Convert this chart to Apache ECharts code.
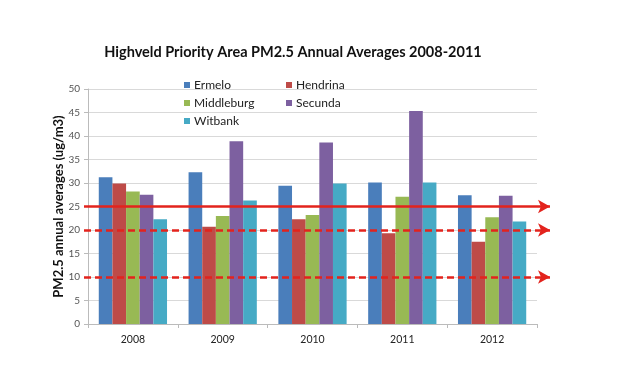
<!DOCTYPE html>
<html><head><meta charset="utf-8">
<script src="https://cdn.jsdelivr.net/npm/echarts@6/dist/echarts.min.js"></script>
<style>html,body{margin:0;padding:0;background:#fff}#c{width:620px;height:372px}</style>
</head><body><div id="c"></div>
<script>
const years = ['2008','2009','2010','2011','2012'];
const ermelo = [31.2, 32.3, 29.4, 30.1, 27.4];
const hendrina = [29.9, 20.7, 22.3, 19.3, 17.5];
const middleburg = [28.2, 23.0, 23.2, 27.1, 22.7];
const secunda = [27.5, 38.9, 38.6, 45.3, 27.3];
const witbank = [22.3, 26.3, 29.9, 30.1, 21.8];
const limitSolid = [25];
const limitDashed = [20, 10];
const seriesNames = ['Ermelo','Hendrina','Middleburg','Secunda','Witbank'];
const seriesData = [ermelo, hendrina, middleburg, secunda, witbank];
const colors = ['#4a7ebb','#be4b48','#98b954','#7d60a0','#46aac5'];

const chart = echarts.init(document.getElementById('c'));
const font = 'Lato, "Open Sans", sans-serif';
const legPos = [[179,74],[281,74],[179,92],[281,92],[179,110]];
const red = '#e3231d';
const arrowLine = (v, dashed) => ({
  yAxis: v,
  lineStyle: {color: red, width: 2.5, type: dashed ? [7,4] : 'solid'}
});
chart.setOption({
  animation: false,
  backgroundColor: '#fff',
  title: {
    text: 'Highveld Priority Area PM2.5 Annual Averages 2008-2011',
    left: 288, top: 40, textAlign: 'center',
    textStyle: {fontFamily: font, fontWeight: 'bold', fontSize: 14.5, color: '#111'}
  },
  legend: seriesNames.map((n, i) => ({
    data: [n], left: legPos[i][0], top: legPos[i][1],
    itemWidth: 6, itemHeight: 6, icon: 'rect', itemGap: 4,
    textStyle: {fontFamily: font, fontSize: 12, color: '#222', padding: [0,0,0,-1]}
  })),
  grid: [
    {left: 88, right: 83, top: 89, bottom: 48},
    {left: 84, right: 70, top: 89, bottom: 48}
  ],
  xAxis: [
    {type: 'category', data: years, gridIndex: 0,
     axisLine: {lineStyle: {color: '#bbb'}},
     axisTick: {show: true, length: 4, lineStyle: {color: '#bbb'}},
     axisLabel: {fontFamily: font, fontSize: 10.5, color: '#222', margin: 10}},
    {type: 'value', gridIndex: 1, min: 0, max: 1, show: false}
  ],
  yAxis: [
    {type: 'value', gridIndex: 0, min: 0, max: 50, interval: 5,
     name: 'PM2.5 annual averages (ug/m3)', nameLocation: 'middle', nameGap: 23,
     nameMoveOverlap: false,
     nameTextStyle: {fontFamily: font, fontWeight: 'bold', fontSize: 13, color: '#111'},
     axisLine: {show: true, lineStyle: {color: '#bbb'}},
     axisTick: {show: true, length: 4, lineStyle: {color: '#bbb'}},
     axisLabel: {fontFamily: font, fontSize: 10, color: '#555', margin: 8},
     splitLine: {lineStyle: {color: '#d9d9d9'}}},
    {type: 'value', gridIndex: 1, min: 0, max: 50, show: false}
  ],
  series: seriesNames.map((n, i) => ({
    name: n, type: 'bar', data: seriesData[i],
    xAxisIndex: 0, yAxisIndex: 0,
    itemStyle: {color: colors[i]},
    barGap: '0%', barCategoryGap: '24%'
  })).concat([{
    type: 'line', name: 'limits', data: [], xAxisIndex: 1, yAxisIndex: 1,
    markLine: {
      silent: true, symbol: ['none', 'arrow'], symbolSize: [10, 12],
      label: {show: false},
      data: limitSolid.map(v => arrowLine(v, false)).concat(limitDashed.map(v => arrowLine(v, true)))
    }
  }])
});
</script></body></html>
